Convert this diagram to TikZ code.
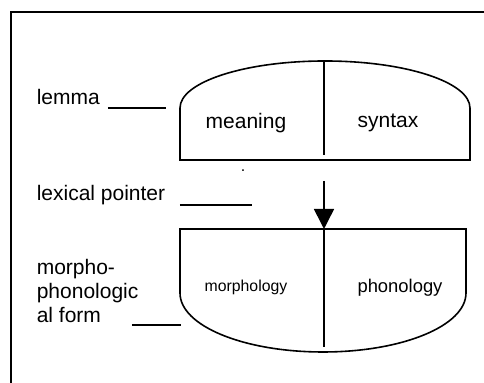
\documentclass[tikz,border=0pt]{standalone}
\usepackage{fontspec}
\setmainfont{Liberation Sans}
\usetikzlibrary{arrows.meta,positioning}
\tikzset{>={Triangle[length=10pt,width=10pt]}}
\newcommand{\drawtext}{\node[anchor=base west,inner sep=0,font=\fontsize{10.5}{12}\selectfont]}
\newcommand{\drawpart}{\node[anchor=base,inner sep=0]}
\newcommand{\drawdummy}{\coordinate}

\begin{document}
\begin{tikzpicture}[x=0.5pt,y=-0.5pt,line width=0.8pt]
	
	\useasboundingbox (0,0) rectangle (484,383);
	\draw (11,383) -- (11,12) -- (484,12);%frame, cut at right and bottom
	
	% lemma
	\draw (180,160) -- (180,108) .. controls (180,82) and (245,61) .. (325,61)
		.. controls (405,61) and (470,82) .. (470,108) -- (470,160) -- cycle;
	\draw (324,61) -- (324,155);
	\drawpart (meaning) at (246,129) {\fontsize{10.5}{12}\selectfont meaning};
	\drawpart (syntax) at (388,128) {\fontsize{10.5}{12}\selectfont syntax};
	\drawpart (dot) at (243,172) {\fontsize{8}{10}\selectfont .};
	
	% form
	\draw (180,229) -- (466,229) -- (466,293) .. controls (466,326) and (402,352) .. (323,352)
		.. controls (244,352) and (180,326) .. (180,293) -- cycle;
	\draw (324,229) -- (324,347);
	\drawpart (morph) at (246,292) {\fontsize{7.9}{10}\selectfont morphology};
	\drawpart (phon) at (400,293) {\fontsize{9.2}{11}\selectfont phonology};
	
	% labels
	\drawtext (lemma) at (36,105) {lemma};
	\drawtext (pointer) at (36,201) {lexical pointer};
	\drawtext (form1) at (36,275) {morpho-};
	\drawtext (form2) at (36,299) {phonologic};
	\drawtext (form3) at (36,323) {al form};
	
	\drawdummy (l1) at (108,108);
	\drawdummy (l2) at (166,108);
	\drawdummy (p1) at (180,205);
	\drawdummy (p2) at (252,205);
	\drawdummy (f1) at (132,325);
	\drawdummy (f2) at (181,325);
	\drawdummy (lex) at (324,181);
	\drawdummy (top) at (324,229);
	
	\draw (l1) -- (l2);
	\draw (p1) -- (p2);
	\draw (f1) -- (f2);
	\draw[->] (lex) -- (top);
	
\end{tikzpicture}
\end{document}
